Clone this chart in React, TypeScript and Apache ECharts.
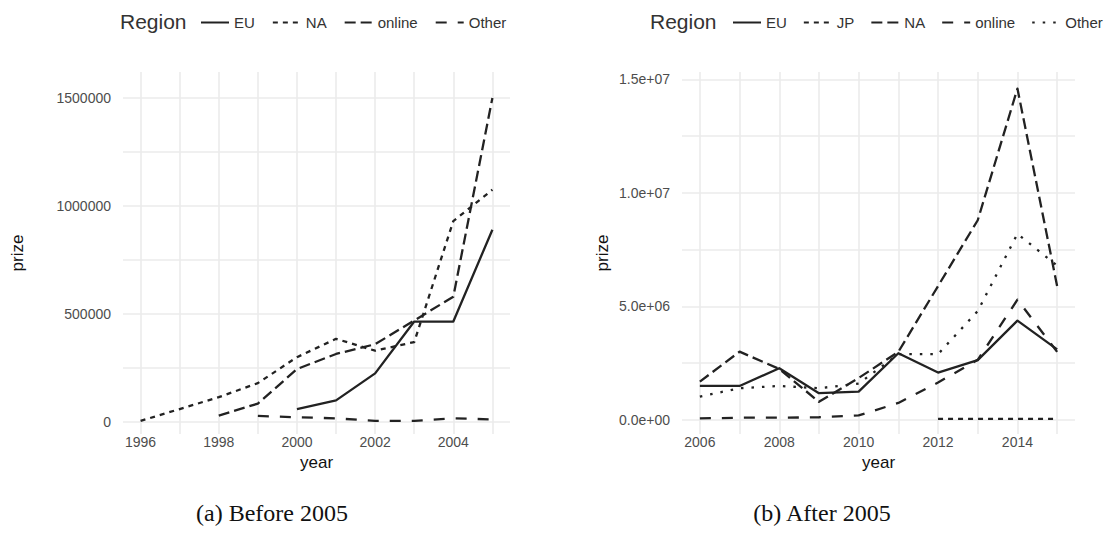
import React, { useEffect, useRef } from 'react';
import * as echarts from 'echarts';

// ---------- data: panel (a) Before 2005 ----------
const yearsA = [1996, 1997, 1998, 1999, 2000, 2001, 2002, 2003, 2004, 2005];
const euA = [null, null, null, null, 60000, 100000, 225000, 465000, 465000, 890000];
const naA = [5000, 60000, 115000, 180000, 300000, 385000, 330000, 370000, 930000, 1075000];
const onlineA = [null, null, 30000, 85000, 245000, 315000, 360000, 470000, 580000, 1500000];
const otherA = [null, null, null, 28000, 22000, 17000, 5000, 5000, 17000, 12000];

// ---------- data: panel (b) After 2005 ----------
const yearsB = [2006, 2007, 2008, 2009, 2010, 2011, 2012, 2013, 2014, 2015];
const euB = [1500000, 1500000, 2280000, 1180000, 1250000, 2940000, 2090000, 2640000, 4380000, 3110000];
const jpB = [null, null, null, null, null, null, 50000, 50000, 50000, 50000];
const naB = [1690000, 3010000, 2250000, 800000, 1850000, 3000000, 5900000, 8800000, 14600000, 5900000];
const onlineB = [70000, 100000, 100000, 120000, 200000, 750000, 1650000, 2650000, 5300000, 3000000];
const otherB = [1030000, 1400000, 1500000, 1400000, 1600000, 2900000, 2900000, 4800000, 8200000, 6800000];

const legendA = ['EU', 'NA', 'online', 'Other'];
const legendB = ['EU', 'JP', 'NA', 'online', 'Other'];
const captionA = '(a) Before 2005';
const captionB = '(b) After 2005';

const pairs = (years: number[], vals: (number | null)[]) =>
  years.map((y, i) => [y, vals[i]]).filter((p) => p[1] != null);

const LT: Record<string, any> = {
  solid: 'solid',
  d22: [5, 5],
  d42: [11, 5],
  d44: [11, 11],
  d13: [2.5, 8],
};

const SANS = "'Liberation Sans', Arial, sans-serif";
const SERIF = "'Liberation Serif', 'Times New Roman', serif";
const GRID_COLOR = '#ebebeb';
const LINE_COLOR = '#222222';

function mkSeries(name: string, data: any[], dash: any, idx: number) {
  return {
    type: 'line',
    name,
    xAxisIndex: idx,
    yAxisIndex: idx,
    data,
    symbol: 'none',
    showSymbol: false,
    silent: true,
    lineStyle: { color: LINE_COLOR, width: 2.3, type: dash, cap: 'butt', join: 'round' },
    itemStyle: { color: LINE_COLOR },
    z: 3,
  };
}

function xAxisDef(idx: number, min: number, max: number) {
  return {
    type: 'value',
    gridIndex: idx,
    min,
    max,
    minInterval: 1,
    maxInterval: 1,
    name: 'year',
    nameLocation: 'middle',
    nameGap: 12,
    nameTextStyle: { fontFamily: SANS, fontSize: 17, color: '#111' },
    axisLine: { show: false },
    axisTick: { show: false },
    axisLabel: {
      margin: 1,
      showMinLabel: false,
      showMaxLabel: false,
      fontFamily: SANS,
      fontSize: 14,
      color: '#4d4d4d',
      formatter: (v: number) => (Number.isInteger(v) && v % 2 === 0 ? String(v) : ''),
    },
    splitLine: {
      show: true,
      showMinLine: false,
      showMaxLine: false,
      lineStyle: { color: GRID_COLOR, width: 1.6 },
    },
  };
}

function yAxisDef(idx: number, min: number, max: number, step: number, major: number, fmt: (v: number) => string, nameGap: number) {
  return {
    type: 'value',
    gridIndex: idx,
    min,
    max,
    minInterval: step,
    maxInterval: step,
    name: 'prize',
    nameLocation: 'middle',
    nameGap,
    nameRotate: 90,
    nameTextStyle: { fontFamily: SANS, fontSize: 17, color: '#111' },
    axisLine: { show: false },
    axisTick: { show: false },
    axisLabel: {
      margin: 12,
      showMinLabel: false,
      showMaxLabel: false,
      fontFamily: SANS,
      fontSize: 14,
      color: '#4d4d4d',
      formatter: (v: number) => (v >= 0 && Math.abs(v % major) < 1e-6 ? fmt(v) : ''),
    },
    splitLine: {
      show: true,
      showMinLine: false,
      showMaxLine: false,
      lineStyle: { color: GRID_COLOR, width: 1.6 },
    },
  };
}

const sciFmt = (v: number) => {
  const s = v.toExponential(1);
  return s.replace(/e([+-])(\d)$/, 'e$10$2');
};

function legendDef(prefix: string, names: string[], left: number, gap: number) {
  return {
    data: names.map((n) => prefix + '|' + n),
    left,
    top: 15,
    width: 420,
    padding: 0,
    orient: 'horizontal',
    itemWidth: 28,
    itemHeight: 14,
    itemGap: gap,
    selectedMode: false,
    formatter: (n: string) => n.split('|')[1],
    itemStyle: { opacity: 0, borderWidth: 0 },
    textStyle: { fontFamily: SANS, fontSize: 15, color: '#333' },
  };
}

export default function App() {
  const ref = useRef<HTMLDivElement>(null);

  useEffect(() => {
    document.body.style.margin = '0';
    const chart = echarts.init(ref.current!, undefined, { renderer: 'svg' });
    const series = [
      mkSeries('A|EU', pairs(yearsA, euA), LT.solid, 0),
      mkSeries('A|NA', pairs(yearsA, naA), LT.d22, 0),
      mkSeries('A|online', pairs(yearsA, onlineA), LT.d42, 0),
      mkSeries('A|Other', pairs(yearsA, otherA), LT.d44, 0),
      mkSeries('B|EU', pairs(yearsB, euB), LT.solid, 1),
      mkSeries('B|JP', pairs(yearsB, jpB), LT.d22, 1),
      mkSeries('B|NA', pairs(yearsB, naB), LT.d42, 1),
      mkSeries('B|online', pairs(yearsB, onlineB), LT.d44, 1),
      mkSeries('B|Other', pairs(yearsB, otherB), LT.d13, 1),
    ];
    chart.setOption({
      animation: false,
      backgroundColor: '#ffffff',
      grid: [
        { left: 123, top: 72, width: 387, height: 362, containLabel: false, outerBoundsMode: 'none' },
        { left: 682, top: 72, width: 393, height: 362, containLabel: false, outerBoundsMode: 'none' },
      ],
      xAxis: [xAxisDef(0, 1995.55, 2005.45), xAxisDef(1, 2005.55, 2015.45)],
      yAxis: [
        yAxisDef(0, -55500, 1620000, 250000, 500000, (v) => String(v), 97),
        yAxisDef(1, -617000, 15330000, 2500000, 5000000, sciFmt, 71),
      ],
      legend: [legendDef('A', legendA, 200, 17), legendDef('B', legendB, 732, 16)],
      graphic: [
        { type: 'text', left: 120, top: 11, style: { text: 'Region', fontFamily: SANS, fontSize: 21, fill: '#333' } },
        { type: 'text', left: 650, top: 11, style: { text: 'Region', fontFamily: SANS, fontSize: 21, fill: '#333' } },
        { type: 'text', x: 272, y: 513, style: { text: captionA, fontFamily: SERIF, fontSize: 24, fill: '#111', align: 'center', verticalAlign: 'middle' } },
        { type: 'text', x: 822, y: 513, style: { text: captionB, fontFamily: SERIF, fontSize: 24, fill: '#111', align: 'center', verticalAlign: 'middle' } },
      ],
      series,
    });
    return () => chart.dispose();
  }, []);

  return <div ref={ref} style={{ width: 1108, height: 542 }} />;
}
